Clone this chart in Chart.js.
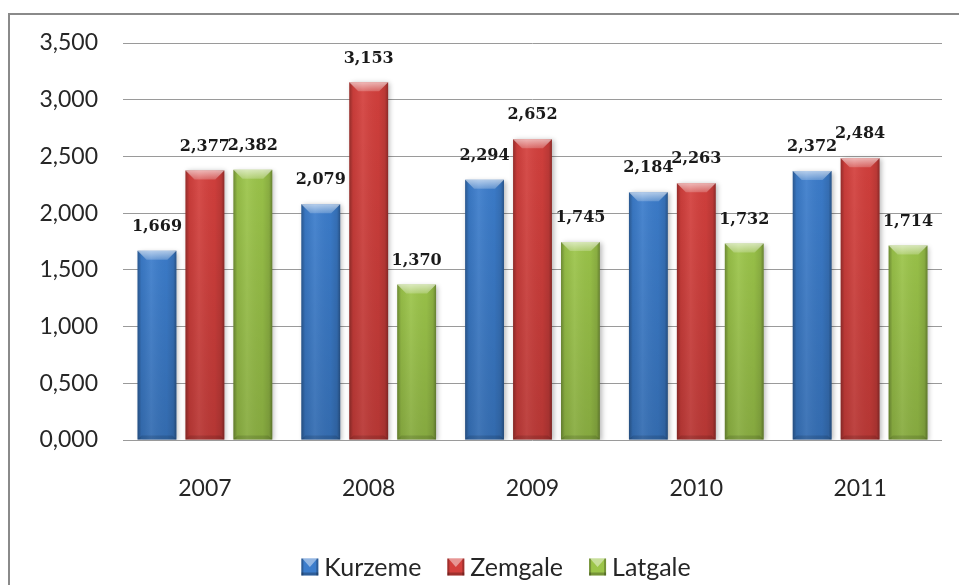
<!DOCTYPE html>
<html>
<head>
<meta charset="utf-8">
<title>Kurzeme, Zemgale, Latgale 2007–2011</title>
<script src="https://cdn.jsdelivr.net/npm/chart.js@4.4.1/dist/chart.umd.min.js"></script>
<style>
  html, body { margin: 0; padding: 0; background: #fff; overflow: hidden; }
</style>
</head>
<body>
<canvas id="myChart" width="959" height="585"></canvas>
<script>
var years = ["2007", "2008", "2009", "2010", "2011"];
var kurzeme = [1.669, 2.079, 2.294, 2.184, 2.372];
var zemgale = [2.377, 3.153, 2.652, 2.263, 2.484];
var latgale = [2.382, 1.370, 1.745, 1.732, 1.714];
var yTicks = [0, 0.5, 1, 1.5, 2, 2.5, 3, 3.5];

var seriesNames = ["Kurzeme", "Zemgale", "Latgale"];
var barColors = ["#3c7dcc", "#d4403d", "#9cc54a"];

var axisFont = { family: "Lato", size: 23 };

// values use a comma as decimal separator, three decimals
function fmt(v) {
  return v.toFixed(3).replace(".", ",");
}

// white page + grey frame that runs off the right/bottom edge
var framePlugin = {
  id: "frame",
  beforeDraw(chart) {
    var ctx = chart.ctx;
    ctx.save();
    ctx.fillStyle = "#fff";
    ctx.fillRect(0, 0, chart.width, chart.height);
    ctx.strokeStyle = "#8a8a8a";
    ctx.lineWidth = 2;
    ctx.strokeRect(9, 14, chart.width + 40, chart.height + 40);
    ctx.restore();
  },
};

// soft drop shadow under bars, then a bevel/shine overlay on top of each one
var bevelPlugin = {
  id: "bevel",
  beforeDatasetDraw(chart) {
    var ctx = chart.ctx;
    ctx.save();
    ctx.shadowColor = "rgba(0,0,0,0.28)";
    ctx.shadowBlur = 5;
    ctx.shadowOffsetX = 2;
    ctx.shadowOffsetY = 1;
  },
  afterDatasetDraw(chart, args) {
    var ctx = chart.ctx;
    ctx.restore();
    ctx.save();
    args.meta.data.forEach(function (bar) {
      var p = bar.getProps(["x", "y", "base", "width"], true);
      var l = p.x - p.width / 2, r = p.x + p.width / 2;
      var t = p.y, b = p.base, w = p.width;

      var g = ctx.createLinearGradient(l, 0, r, 0);
      g.addColorStop(0, "rgba(0,0,0,0.30)");
      g.addColorStop(0.1, "rgba(0,0,0,0.06)");
      g.addColorStop(0.35, "rgba(255,255,255,0.07)");
      g.addColorStop(0.75, "rgba(0,0,0,0.03)");
      g.addColorStop(0.92, "rgba(0,0,0,0.12)");
      g.addColorStop(1, "rgba(0,0,0,0.34)");
      ctx.fillStyle = g;
      ctx.fillRect(l, t, w, b - t);

      var gv = ctx.createLinearGradient(0, t, 0, b);
      gv.addColorStop(0, "rgba(0,0,0,0)");
      gv.addColorStop(1, "rgba(0,0,0,0.12)");
      ctx.fillStyle = gv;
      ctx.fillRect(l, t, w, b - t);

      // top cap
      var bev = 9;
      var gt = ctx.createLinearGradient(0, t, 0, t + bev);
      gt.addColorStop(0, "rgba(255,255,255,0.6)");
      gt.addColorStop(1, "rgba(255,255,255,0.2)");
      ctx.beginPath();
      ctx.moveTo(l, t);
      ctx.lineTo(r, t);
      ctx.lineTo(r - bev, t + bev);
      ctx.lineTo(l + bev, t + bev);
      ctx.closePath();
      ctx.fillStyle = gt;
      ctx.fill();

      // bottom lip
      ctx.beginPath();
      ctx.moveTo(l, b);
      ctx.lineTo(r, b);
      ctx.lineTo(r - 4, b - 4);
      ctx.lineTo(l + 4, b - 4);
      ctx.closePath();
      ctx.fillStyle = "rgba(0,0,0,0.12)";
      ctx.fill();
    });
    ctx.restore();
  },
};

// value above every bar
var valueLabels = {
  id: "valueLabels",
  afterDatasetsDraw(chart) {
    var ctx = chart.ctx;
    ctx.save();
    ctx.font = "bold 16px 'DejaVu Serif'";
    ctx.fillStyle = "#1a1a1a";
    ctx.textAlign = "center";
    ctx.textBaseline = "middle";
    chart.data.datasets.forEach(function (ds, i) {
      chart.getDatasetMeta(i).data.forEach(function (bar, j) {
        ctx.fillText(fmt(ds.data[j]), bar.x, bar.y - 24);
      });
    });
    ctx.restore();
  },
};

// small bevelled square used as legend marker
function drawIcon(ctx, x, y, s, color) {
  ctx.fillStyle = color;
  ctx.fillRect(x, y, s, s);
  ctx.fillStyle = "rgba(0,0,0,0.25)";
  ctx.fillRect(x, y + s - 3, s, 3);
  ctx.fillRect(x, y, 2, s);
  ctx.fillRect(x + s - 2, y, 2, s);
  ctx.beginPath();
  ctx.moveTo(x + 1, y);
  ctx.lineTo(x + s - 1, y);
  ctx.lineTo(x + s / 2, y + s / 2);
  ctx.closePath();
  ctx.fillStyle = "rgba(255,255,255,0.45)";
  ctx.fill();
}

var legendPlugin = {
  id: "bottomLegend",
  afterDraw(chart) {
    var ctx = chart.ctx;
    var box = 17, gapIcon = 6, gapItem = 26;
    ctx.save();
    ctx.font = "25px Lato";
    var widths = chart.data.datasets.map(function (ds) {
      return ctx.measureText(ds.label).width;
    });
    var total = 0;
    widths.forEach(function (w, i) {
      total += box + gapIcon + w + (i > 0 ? gapItem : 0);
    });
    var x = 496 - total / 2;
    var y = 567;
    ctx.textAlign = "left";
    ctx.textBaseline = "middle";
    chart.data.datasets.forEach(function (ds, i) {
      drawIcon(ctx, x, y - box / 2, box, barColors[i]);
      x += box + gapIcon;
      ctx.fillStyle = "#262626";
      ctx.fillText(ds.label, x, y + 1);
      x += widths[i] + gapItem;
    });
    ctx.restore();
  },
};

new Chart("myChart", {
  type: "bar",
  data: {
    labels: years,
    datasets: [
      { label: seriesNames[0], data: kurzeme, backgroundColor: barColors[0] },
      { label: seriesNames[1], data: zemgale, backgroundColor: barColors[1] },
      { label: seriesNames[2], data: latgale, backgroundColor: barColors[2] },
    ],
  },
  options: {
    responsive: false,
    animation: false,
    categoryPercentage: 0.878,
    barPercentage: 0.81,
    layout: { padding: { left: 0, right: 17, top: 43, bottom: 0 } },
    scales: {
      x: {
        grid: { display: false },
        border: { display: false },
        ticks: { color: "#262626", font: axisFont, padding: 27 },
        afterFit(scale) {
          scale.height = 145;
        },
      },
      y: {
        min: 0,
        max: 3.5,
        grid: { color: "#9a9a9a", drawTicks: false },
        border: { display: false },
        ticks: {
          color: "#262626",
          font: axisFont,
          padding: 25,
          callback: function (v) {
            return fmt(v);
          },
        },
        afterBuildTicks(scale) {
          scale.ticks = yTicks.map(function (v) {
            return { value: v };
          });
        },
        afterFit(scale) {
          scale.width = 123;
        },
      },
    },
    plugins: {
      legend: { display: false },
      tooltip: { enabled: false },
    },
  },
  plugins: [framePlugin, bevelPlugin, valueLabels, legendPlugin],
});
</script>
</body>
</html>
